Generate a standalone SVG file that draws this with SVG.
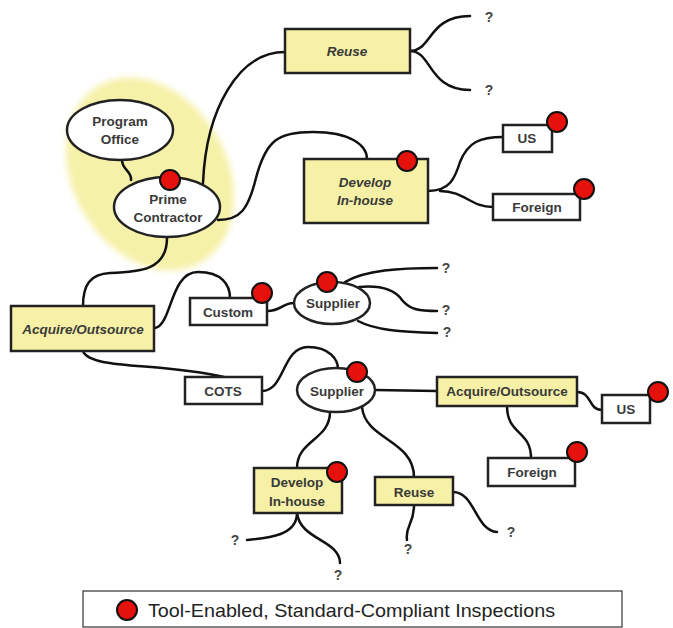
<svg xmlns="http://www.w3.org/2000/svg" width="673" height="628" viewBox="0 0 673 628">
<defs>
<style>
.c{fill:none;stroke:#111;stroke-width:2.5;stroke-linecap:round}
.y{fill:#f6f1a6;stroke:#222;stroke-width:2.5}
.w{fill:#fff;stroke:#222;stroke-width:2.5}
.d{fill:#e5110c;stroke:#111;stroke-width:2}
.t{font-family:"Liberation Sans",Arial,sans-serif;font-weight:bold;font-size:13.5px;fill:#3a3a3a;text-anchor:middle}
.i{font-style:italic}
.q{font-family:"Liberation Sans",Arial,sans-serif;font-weight:bold;font-size:14px;fill:#444;text-anchor:middle}
</style>
<filter id="blur" x="-20%" y="-20%" width="140%" height="140%"><feGaussianBlur stdDeviation="3"/></filter>
</defs>
<rect width="673" height="628" fill="#fff"/>
<ellipse cx="150" cy="174" rx="102" ry="77" transform="rotate(60 150 174)" fill="#f6f1a8" filter="url(#blur)"/>
<g id="connectors">
<path class="c" d="M122,160 C122,170 132,171 131,180"/>
<path class="c" d="M203,183 C206,110 238,52 285,52"/>
<path class="c" d="M218,220 C240,220 248,210 256,178 C266,140 278,132 313,132 C350,132 367,145 367,159"/>
<path class="c" d="M167,238 C167,270 140,272 110,273 C90,274 83,285 83,306"/>
<path class="c" d="M410,51 C432,51 428,16 470,16"/>
<path class="c" d="M410,51 C432,51 428,90 470,90"/>
<path class="c" d="M428,191 C450,191 455,178 460,162 C468,142 480,137 503,137"/>
<path class="c" d="M440,191 C465,191 470,207 493,207"/>
<path class="c" d="M155,328 C172,325 170,272 198,272 C222,272 230,285 230,298"/>
<path class="c" d="M267,311 C282,311 282,303 294,303"/>
<path class="c" d="M345,282 C365,270 400,268 437,268"/>
<path class="c" d="M359,287 C382,285 395,290 402,300 C410,310 420,311 437,311"/>
<path class="c" d="M358,321 C375,330 400,332 437,333"/>
<path class="c" d="M83,351 C90,370 160,362 224,377"/>
<path class="c" d="M262,391 C285,391 282,347 308,347 C330,347 338,360 338,369"/>
<path class="c" d="M375,390 L437,391"/>
<path class="c" d="M577,392 C592,392 588,410 602,410"/>
<path class="c" d="M507,406 C507,435 531,430 531,458"/>
<path class="c" d="M330,412 C330,440 297,440 297,468"/>
<path class="c" d="M362,407 C365,440 414,440 414,477"/>
<path class="c" d="M297,513 C297,535 270,538 247,540"/>
<path class="c" d="M297,513 C300,540 340,540 340,563"/>
<path class="c" d="M414,505 C414,525 405,525 407,540"/>
<path class="c" d="M453,492 C475,492 475,530 497,532"/>
</g>
<g id="program-office"><ellipse class="w" cx="120" cy="130" rx="53" ry="30"/><text class="t" x="120" y="126">Program</text><text class="t" x="120" y="144">Office</text></g>
<g id="prime-contractor"><ellipse class="w" cx="167" cy="207" rx="53" ry="30"/><text class="t" x="168" y="204">Prime</text><text class="t" x="168" y="222">Contractor</text><circle class="d" cx="170" cy="180" r="10"/></g>
<g id="reuse"><rect class="y" x="285" y="29" width="125" height="44"/><text class="t i" x="347" y="56">Reuse</text></g>
<g id="develop"><rect class="y" x="304" y="159" width="124" height="64"/><text class="t i" x="365" y="187">Develop</text><text class="t i" x="365" y="205">In-house</text><circle class="d" cx="407" cy="161" r="10"/></g>
<g id="us1"><rect class="w" x="503" y="125" width="49" height="27"/><text class="t" x="527" y="143">US</text><circle class="d" cx="557" cy="122" r="10"/></g>
<g id="foreign1"><rect class="w" x="493" y="194" width="87" height="26"/><text class="t" x="537" y="212">Foreign</text><circle class="d" cx="584" cy="189" r="10"/></g>
<g id="acquire1"><rect class="y" x="11" y="306" width="143" height="45"/><text class="t i" x="83" y="334">Acquire/Outsource</text></g>
<g id="custom"><rect class="w" x="190" y="298" width="77" height="27"/><text class="t" x="228" y="317">Custom</text><circle class="d" cx="262" cy="293" r="10"/></g>
<g id="supplier1"><ellipse class="w" cx="332" cy="303" rx="38" ry="21"/><text class="t" x="333" y="308">Supplier</text><circle class="d" cx="327" cy="282" r="10"/></g>
<g id="q-s1"><text class="q" x="446" y="273">?</text><text class="q" x="446" y="315">?</text><text class="q" x="447" y="337">?</text></g>
<g id="cots"><rect class="w" x="185" y="377" width="77" height="27"/><text class="t" x="223" y="396">COTS</text></g>
<g id="supplier2"><ellipse class="w" cx="336" cy="390" rx="39" ry="22"/><text class="t" x="337" y="396">Supplier</text><circle class="d" cx="357" cy="372" r="10"/></g>
<g id="acquire2"><rect class="y" x="437" y="377" width="140" height="29"/><text class="t" x="507" y="396">Acquire/Outsource</text></g>
<g id="us2"><rect class="w" x="602" y="395" width="48" height="28"/><text class="t" x="626" y="414">US</text><circle class="d" cx="658" cy="392" r="10"/></g>
<g id="foreign2"><rect class="w" x="488" y="458" width="87" height="28"/><text class="t" x="532" y="477">Foreign</text><circle class="d" cx="577" cy="452" r="10"/></g>
<g id="develop2"><rect class="y" x="254" y="468" width="88" height="45"/><text class="t" x="297" y="487">Develop</text><text class="t" x="297" y="506">In-house</text><circle class="d" cx="337" cy="472" r="10"/></g>
<g id="reuse2"><rect class="y" x="375" y="477" width="78" height="28"/><text class="t" x="414" y="497">Reuse</text></g>
<g id="q-reuse"><text class="q" x="489" y="22">?</text><text class="q" x="489" y="95">?</text></g>
<g id="q-bottom"><text class="q" x="235" y="545">?</text><text class="q" x="338" y="580">?</text><text class="q" x="408" y="554">?</text><text class="q" x="511" y="537">?</text></g>
<g id="legend"><rect x="83" y="591" width="539" height="36" fill="#fff" stroke="#333" stroke-width="1.2"/><circle class="d" cx="127" cy="610" r="10"/><text x="148" y="617" font-family="'Liberation Sans',Arial,sans-serif" font-size="19" textLength="407" lengthAdjust="spacingAndGlyphs" fill="#222">Tool-Enabled, Standard-Compliant Inspections</text></g>
</svg>
